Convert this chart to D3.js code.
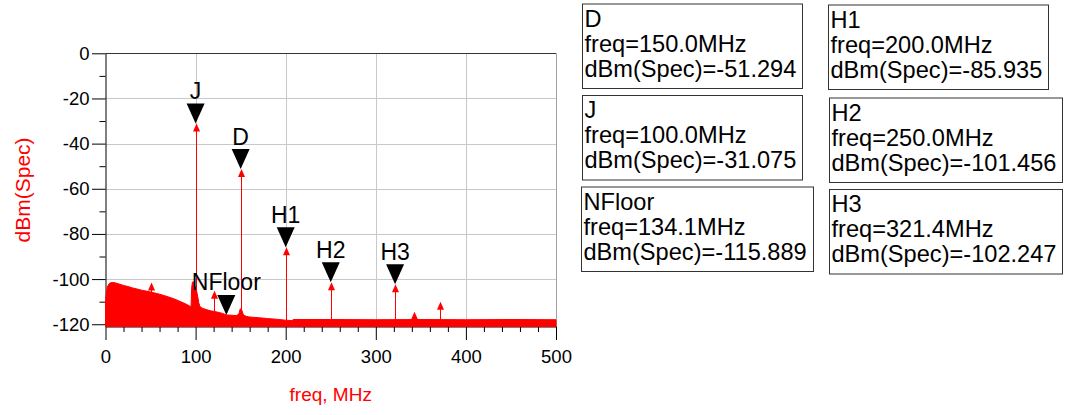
<!DOCTYPE html>
<html>
<head>
<meta charset="utf-8">
<script src="https://cdn.jsdelivr.net/npm/d3@7"></script>
<style>
  body { margin: 0; background: #fff; }
  svg { display: block; font-family: "Liberation Sans", Arial, sans-serif; }
</style>
</head>
<body>
<svg id="chart" width="1067" height="415"></svg>
<script>
// Axis ticks
const xMajorTicks = [0, 100, 200, 300, 400, 500];
const yMajorTicks = [0, -20, -40, -60, -80, -100, -120];

// Noise floor envelope of the spectrum (freq in MHz, level in dBm)
const noiseFreq = [0, 1, 2, 4, 6, 9, 12, 16, 20, 25, 30, 35, 40, 45, 50, 55, 60, 65, 70, 75, 80, 85, 90, 94,
  95, 95.6, 96.5, 97.5, 98.5, 99.5, 100.5, 101.5, 102.5, 103.5, 105, 108, 112, 116, 120, 125, 130, 134.1,
  140, 145, 148, 149.5, 151, 153, 156, 160, 170, 180, 190, 200, 207, 208.5, 250, 300, 350, 400, 450, 500];
const noiseDbm = [-109.5, -106, -103.5, -102, -101.6, -101.5, -101.8, -102.3, -102.8, -103.3, -103.9, -104.4,
  -104.9, -105.3, -105.7, -106.2, -106.7, -107.3, -107.9, -108.6, -109.4, -110.3, -111.2, -112.1,
  -112, -104, -101.3, -101.2, -102.5, -103.5, -104.5, -106, -108, -110.5, -112.3, -113, -113.5, -114, -114.3,
  -114.7, -115.2, -115.889, -116, -116.2, -115.5, -113.2, -113.5, -115.8, -116.5, -116.8, -117.1, -117.5,
  -117.8, -118.2, -118.4, -117.9, -117.9, -118, -117.9, -118, -117.9, -118];

// Discrete spectral lines (tones and spurs)
const toneFreq = [100, 150, 200, 250, 321.4, 50.2, 120.8, 342.7, 371.6];
const toneDbm = [-31.075, -51.294, -85.935, -101.456, -102.247, -101.5, -105.2, -114.5, -110];

// Markers
const markerNames = ["D", "J", "NFloor", "H1", "H2", "H3"];
const markerFreq = [150.0, 100.0, 134.1, 200.0, 250.0, 321.4];
const markerDbm = [-51.294, -31.075, -115.889, -85.935, -101.456, -102.247];

const RED = "#ff0000";
const svg = d3.select("#chart");

const x = d3.scaleLinear().domain([0, 500]).range([105.5, 556]);
const y = d3.scaleLinear().domain([-121, 0]).range([326.5, 53.3]);
const yBottom = y.domain()[0];

// Plain hyphen-minus number formatting
const fixed = n => v => (v < 0 ? "-" : "") + Math.abs(v).toFixed(n);

// Grid
const grid = svg.append("g");
grid.selectAll("line.gx").data(xMajorTicks.filter(d => d > 0)).join("line")
  .attr("x1", d => Math.round(x(d)) + 0.5).attr("x2", d => Math.round(x(d)) + 0.5)
  .attr("y1", y(0)).attr("y2", y(yBottom))
  .attr("stroke", d => d === 500 ? "#a0a0a0" : "#c8c8c8").attr("stroke-width", 1);
grid.selectAll("line.gy").data(yMajorTicks.filter(d => d < 0)).join("line")
  .attr("x1", x(0)).attr("x2", x(500))
  .attr("y1", d => Math.round(y(d)) + 0.5).attr("y2", d => Math.round(y(d)) + 0.5)
  .attr("stroke", "#c8c8c8").attr("stroke-width", 1);
grid.append("line")
  .attr("x1", x(0)).attr("x2", x(500))
  .attr("y1", Math.round(y(0)) + 0.5).attr("y2", Math.round(y(0)) + 0.5)
  .attr("stroke", "#333").attr("stroke-width", 1);

// Axes
const xMinor = d3.range(0, 501, 20).filter(d => !xMajorTicks.includes(d));
const yMinor = d3.range(-120, 1, 10).filter(d => !yMajorTicks.includes(d));

const gxMinor = svg.append("g").attr("transform", `translate(0,${y(yBottom)})`)
  .call(d3.axisBottom(x).tickValues(xMinor).tickSize(5.5).tickFormat("").tickSizeOuter(0));
const gx = svg.append("g").attr("transform", `translate(0,${y(yBottom)})`)
  .call(d3.axisBottom(x).tickValues(xMajorTicks).tickSize(13.5).tickPadding(9.5).tickSizeOuter(0)
    .tickFormat(fixed(0)));
const gyMinor = svg.append("g").attr("transform", `translate(${x(0)},0)`)
  .call(d3.axisLeft(y).tickValues(yMinor).tickSize(6).tickFormat("").tickSizeOuter(0));
const gy = svg.append("g").attr("transform", `translate(${x(0)},0)`)
  .call(d3.axisLeft(y).tickValues(yMajorTicks).tickSize(13.5).tickPadding(2.5).tickSizeOuter(0)
    .tickFormat(fixed(0)));
[gx, gy, gxMinor, gyMinor].forEach(g => {
  g.selectAll("text").attr("font-size", 18.5).attr("fill", "#000")
    .attr("font-family", "Liberation Sans, Arial, sans-serif");
  g.selectAll("line").attr("stroke", "#000");
  g.select(".domain").attr("stroke", "#000");
});
gyMinor.select(".domain").remove();
gxMinor.select(".domain").remove();

// Axis titles
svg.append("text")
  .attr("x", x(250)).attr("y", 401)
  .attr("text-anchor", "middle").attr("font-size", 19).attr("fill", RED)
  .text("freq, MHz");
svg.append("text")
  .attr("transform", `translate(30,${(y(0) + y(yBottom)) / 2}) rotate(-90)`)
  .attr("text-anchor", "middle").attr("font-size", 21).attr("fill", RED)
  .text("dBm(Spec)");

// Noise floor as dense spectral lines (filled envelope)
const noise = noiseFreq.map((f, i) => [f, noiseDbm[i]]);
svg.append("path")
  .datum(noise)
  .attr("d", d3.area().x(d => x(d[0])).y0(y(yBottom)).y1(d => y(d[1])))
  .attr("fill", RED).attr("stroke", RED).attr("stroke-width", 1);

// Tones: stems with arrowheads
const tones = toneFreq.map((f, i) => [f, toneDbm[i]]);
const tg = svg.append("g");
tg.selectAll("line").data(tones).join("line")
  .attr("x1", d => Math.round(x(d[0])) + 0.5).attr("x2", d => Math.round(x(d[0])) + 0.5)
  .attr("y1", y(yBottom)).attr("y2", d => y(d[1]) + 4)
  .attr("stroke", RED).attr("stroke-width", 1);
tg.selectAll("path").data(tones).join("path")
  .attr("d", d => {
    const cx = Math.round(x(d[0])) + 0.5, ty = y(d[1]);
    return `M${cx},${ty} L${cx - 3.5},${ty + 8} L${cx + 3.5},${ty + 8} Z`;
  })
  .attr("fill", RED);

// Markers: black triangles with names
const markers = markerNames.map((n, i) => ({ name: n, f: markerFreq[i], v: markerDbm[i] }));
const mg = svg.append("g");
mg.selectAll("path").data(markers).join("path")
  .attr("d", d => {
    const cx = x(d.f), ty = y(d.v);
    return `M${cx},${ty} L${cx - 9},${ty - 20} L${cx + 9},${ty - 20} Z`;
  })
  .attr("fill", "#000");
mg.selectAll("text").data(markers).join("text")
  .attr("x", d => x(d.f)).attr("y", d => y(d.v) - 24.5)
  .attr("text-anchor", "middle").attr("font-size", 23).attr("fill", "#000")
  .text(d => d.name);

// Marker readout boxes
const boxPos = {
  D: [582.5, 4], J: [582.5, 95.5], NFloor: [581.5, 187],
  H1: [828.5, 5], H2: [829.5, 98], H3: [829.5, 189.5]
};
const lg = svg.append("g");
markers.forEach(m => {
  const [bx, by] = boxPos[m.name];
  const g = lg.append("g");
  const lines = [m.name, `freq=${fixed(1)(m.f)}MHz`, `dBm(Spec)=${fixed(3)(m.v)}`];
  const rect = g.append("rect").attr("x", bx).attr("y", by).attr("height", 84.5)
    .attr("fill", "#fff").attr("stroke", "#333").attr("stroke-width", 1);
  let w = 0;
  lines.forEach((t, i) => {
    const txt = g.append("text").attr("x", bx + 2).attr("y", by + 22.7 + i * 24.9)
      .attr("font-size", 23.6).attr("fill", "#000").text(t);
    w = Math.max(w, txt.node().getComputedTextLength());
  });
  rect.attr("width", Math.round(w + 8.5));
});
</script>
</body>
</html>
